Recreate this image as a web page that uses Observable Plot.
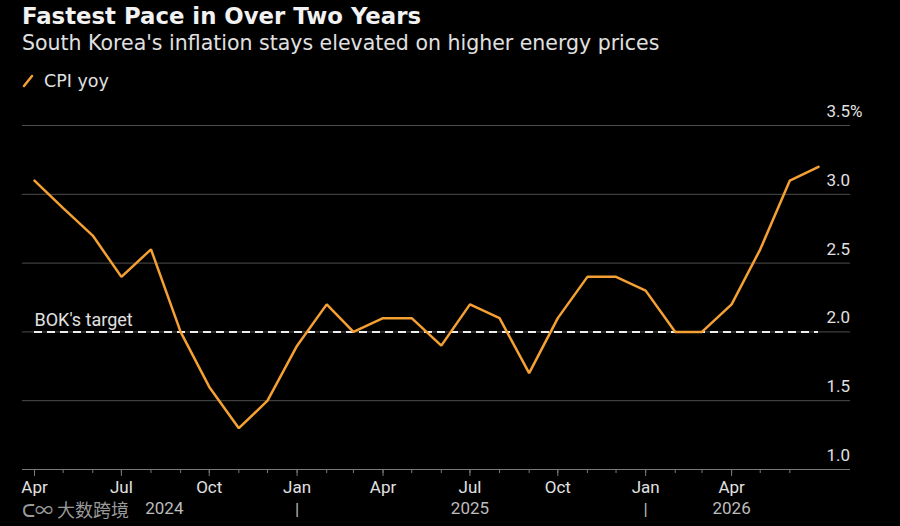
<!DOCTYPE html>
<html>
<head>
<meta charset="utf-8">
<script src="https://cdn.jsdelivr.net/npm/d3@7"></script>
<script src="https://cdn.jsdelivr.net/npm/@observablehq/plot@0.6"></script>
<style>
  html, body { margin: 0; padding: 0; background: #000; width: 900px; height: 526px; overflow: hidden; }
  body { position: relative; font-family: "DejaVu Sans", sans-serif; color: #e6e6e6; }
  #title { position: absolute; left: 22px; top: 2px; font-size: 22.8px; font-weight: 700; line-height: 28px; color: #f2f2f2; white-space: nowrap; }
  #subtitle { position: absolute; left: 22px; top: 29px; font-size: 20.5px; line-height: 28px; color: #e0e0e0; white-space: nowrap; }
  #legend { position: absolute; left: 22px; top: 69px; font-size: 17.5px; line-height: 24px; color: #e0e0e0; display: flex; align-items: center; }
  #legend svg { margin-right: 10px; }
  #chart { position: absolute; left: 0; top: 100px; }
  #watermark { position: absolute; left: 22px; top: 497px; font-size: 18px; line-height: 24px; color: #9a9a9a; font-family: "Noto Sans CJK SC", sans-serif; }
</style>
</head>
<body>
<div id="title">Fastest Pace in Over Two Years</div>
<div id="subtitle">South Korea's inflation stays elevated on higher energy prices</div>
<div id="legend"><svg width="12" height="14"><line x1="2" y1="12" x2="10" y2="2" stroke="#f5a032" stroke-width="2.5" stroke-linecap="round"/></svg><span>CPI yoy</span></div>
<div id="chart"></div>
<div id="watermark">ᑕ∞ 大数跨境</div>
<script>
// ---- data ----
const months = [
  "2024-04","2024-05","2024-06","2024-07","2024-08","2024-09","2024-10","2024-11","2024-12",
  "2025-01","2025-02","2025-03","2025-04","2025-05","2025-06","2025-07","2025-08","2025-09","2025-10","2025-11","2025-12",
  "2026-01","2026-02","2026-03","2026-04","2026-05","2026-06","2026-07"
];
const cpiYoy = [
  3.1, 2.9, 2.7, 2.4, 2.6, 2.0, 1.6, 1.3, 1.5,
  1.9, 2.2, 2.0, 2.1, 2.1, 1.9, 2.2, 2.1, 1.7, 2.1, 2.4, 2.4,
  2.3, 2.0, 2.0, 2.2, 2.6, 3.1, 3.2
];
const bokTarget = 2.0;
const yTicks = [1.0, 1.5, 2.0, 2.5, 3.0, 3.5];
const yTickLabels = ["1.0", "1.5", "2.0", "2.5", "3.0", "3.5%"];
const monthTicks = [
  "2024-04","2024-05","2024-06","2024-07","2024-08","2024-09","2024-10","2024-11","2024-12",
  "2025-01","2025-02","2025-03","2025-04","2025-05","2025-06","2025-07","2025-08","2025-09","2025-10","2025-11","2025-12",
  "2026-01","2026-02","2026-03","2026-04","2026-05","2026-06"
];
const quarterTicks = ["2024-04","2024-07","2024-10","2025-01","2025-04","2025-07","2025-10","2026-01","2026-04"];
const quarterLabels = ["Apr","Jul","Oct","Jan","Apr","Jul","Oct","Jan","Apr"];
const yearLabels = ["2024", "2025", "2026"];
const yearLabelAt = ["2024-08-15", "2025-07-01", "2026-04-01"];
const yearSeparators = ["2025-01", "2026-01"];

// ---- build ----
const parse = s => new Date(s.length === 7 ? s + "-01T00:00:00Z" : s + "T00:00:00Z");
const series = months.map((m, i) => ({date: parse(m), value: cpiYoy[i]}));
const yt = yTicks.map((v, i) => ({v, label: yTickLabels[i]}));
const qt = quarterTicks.map((m, i) => ({date: parse(m), label: quarterLabels[i]}));
const yl = yearLabels.map((t, i) => ({date: parse(yearLabelAt[i]), label: t}));
const seps = yearSeparators.map(parse);
const first = series[0].date, last = series[series.length - 1].date;

const chart = Plot.plot({
  width: 900,
  height: 426,
  marginLeft: 22,
  marginRight: 50,
  marginTop: 25,
  marginBottom: 57,
  style: {background: "#000", color: "#e0e0e0", fontFamily: "Roboto, 'Noto Sans', sans-serif"},
  x: {type: "utc", domain: [first, last], range: [34, 818], axis: null},
  y: {domain: [1, 3.5], range: [369, 25], axis: null},
  marks: [
    Plot.ruleY(yt, {y: "v", stroke: d => d.v === 1 ? "#7a7a7a" : "#4d4d4d", strokeWidth: 1}),
    Plot.text(yt, {y: "v", text: "label", frameAnchor: "right", textAnchor: "start", dx: -24, dy: -14, fontSize: 17, fill: "#e0e0e0"}),
    Plot.axisX({ticks: monthTicks.map(parse), tickSize: 4, tickFormat: () => "", stroke: "#7a7a7a"}),
    Plot.axisX({ticks: qt.map(d => d.date), tickSize: 7, tickPadding: 4, tickFormat: d => (qt.find(q => +q.date === +d) || {}).label, stroke: "#7a7a7a", fill: "#e0e0e0", fontSize: 17}),
    Plot.text(yl, {x: "date", text: "label", frameAnchor: "bottom", dy: 44, fontSize: 17, fill: "#bdbdbd"}),
    Plot.text(seps, {x: d => d, text: () => "|", frameAnchor: "bottom", dy: 45, fontSize: 17, fill: "#bdbdbd"}),
    Plot.ruleY([bokTarget], {x1: first, x2: last, stroke: "#eeeeee", strokeWidth: 2, strokeDasharray: "8,5"}),
    Plot.text([bokTarget], {x: first, y: d => d, text: () => "BOK's target", textAnchor: "start", dy: -12, fontSize: 18, fill: "#e0e0e0"}),
    Plot.line(series, {x: "date", y: "value", stroke: "#f5a032", strokeWidth: 2.5, strokeLinejoin: "miter", curve: "linear"})
  ]
});
document.getElementById("chart").appendChild(chart);
</script>
</body>
</html>
